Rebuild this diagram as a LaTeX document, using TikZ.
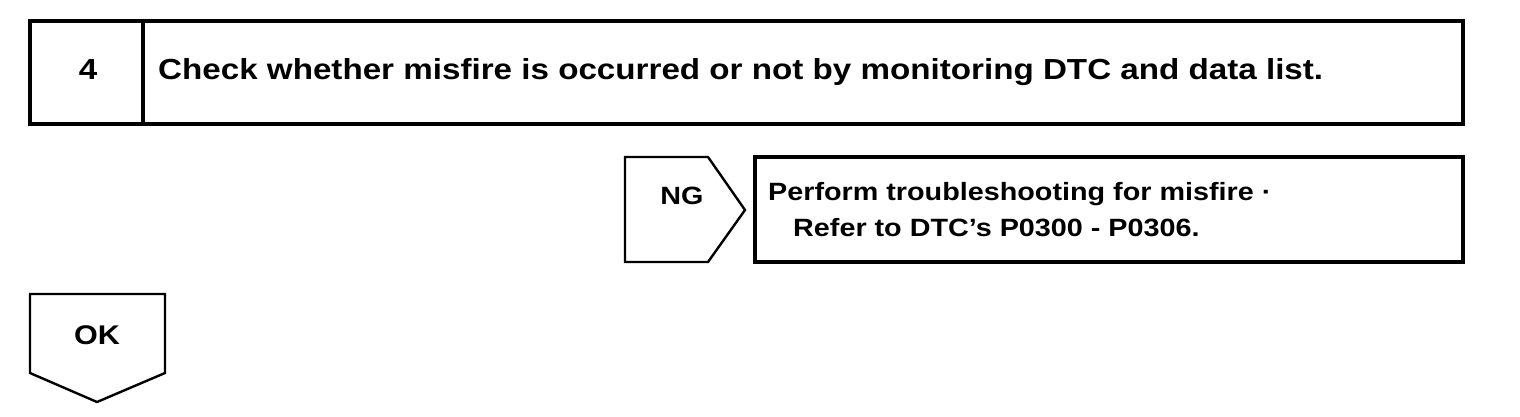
\documentclass[tikz,border=0pt]{standalone}
\usepackage{graphicx}
\usepackage{fontspec}
\setmainfont{Liberation Sans}
\begin{document}
\begin{tikzpicture}[x=1pt,y=-1pt,
  frame/.style={line width=3.2pt, line join=miter},
  tag/.style={line width=2.4pt, line join=miter},
  big/.style={font=\bfseries\fontsize{29}{34}\selectfont, inner sep=0pt},
  okf/.style={font=\bfseries\fontsize{27}{32}\selectfont, inner sep=0pt},
  mid/.style={font=\bfseries\fontsize{25}{30}\selectfont, inner sep=0pt}]
\useasboundingbox (0,0) rectangle (1520,416);
\fill[white] (0,0) rectangle (1520,416);
% step header
\draw[frame] (30,21) rectangle (1463,124);
\draw[frame] (143,21) -- (143,124);
\node[big, anchor=base] (num) at (88,79) {\scalebox{1.144}[1]{4}};
\node[big, anchor=base west] (title) at (158,79) {\scalebox{1.144}[1]{Check whether misfire is occurred or not by monitoring DTC and data list.}};
% NG branch
\draw[tag] (625,157) -- (708,157) -- (745,210) -- (708,262) -- (625,262) -- cycle;
\node[mid, anchor=base] (ng) at (682,204) {\scalebox{1.15}[1]{NG}};
\draw[frame] (755,157) rectangle (1463,262);
\node[mid, anchor=base west] (act1) at (768,200) {\scalebox{1.15}[1]{Perform troubleshooting for misfire ·}};
\node[mid, anchor=base west] (act2) at (793,236) {\scalebox{1.15}[1]{Refer to DTC’s P0300 - P0306.}};
% OK branch
\draw[tag] (30,294) -- (165,294) -- (165,373) -- (97,402) -- (30,373) -- cycle;
\node[okf, anchor=base] (ok) at (97,344) {\scalebox{1.13}[1]{OK}};
\end{tikzpicture}
\end{document}
